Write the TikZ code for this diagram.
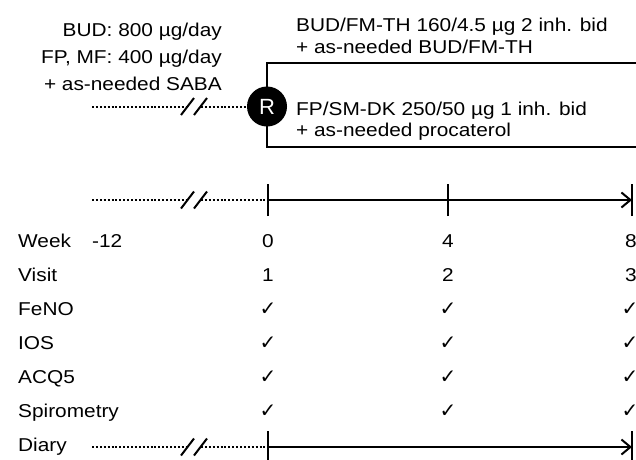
\documentclass[tikz,border=0pt]{standalone}
\usepackage{fontspec}
\setmainfont{Liberation Sans}[FakeStretch=1.12]
\newfontfamily\symfont{DejaVu Sans}
\newfontfamily\rfont{Liberation Sans}
\usetikzlibrary{arrows.meta}
\begin{document}
\begin{tikzpicture}[x=1pt,y=-1pt,
  txt/.style={font=\fontsize{18.6}{22}\selectfont, inner sep=0pt},
  chk/.style={font=\symfont\fontsize{20}{22}\selectfont, inner sep=0pt, anchor=base},
  solidline/.style={line width=2pt},
  dotline/.style={line width=2pt, dash pattern=on 2pt off 1.9pt},
  tickmark/.style={line width=2pt},
  brk/.style={line width=2pt},
  rnode/.style={circle, fill=black, minimum size=40pt, inner sep=0pt,
      font=\rfont\fontsize{22}{24}\selectfont, text=white}]
\useasboundingbox (0,0) rectangle (636,459);

% top-left text
\node[txt, anchor=base east] (l1) at (222,36.7) {BUD: 800 µg/day};
\node[txt, anchor=base east] (l2) at (222,63.3) {FP, MF: 400 µg/day};
\node[txt, anchor=base east] (l3) at (222,90) {+ as-needed SABA};

% randomisation
\coordinate (Rc) at (267,106.5);
\coordinate (s0) at (92,106.5);
\coordinate (s1) at (187,106.5);
\coordinate (s2) at (201,106.5);
\coordinate (s3) at (250,106.5);
\draw[dotline] (s0) -- (s1);
\draw[dotline] (s2) -- (s3);
\draw[brk] (181,115) -- (194,98);
\draw[brk] (194,115) -- (207,98);

% bracket
\coordinate (bt) at (267,63);
\coordinate (bb) at (267,147);
\coordinate (btr) at (636,63);
\coordinate (bbr) at (636,147);
\draw[solidline] (btr) -- (bt) -- (bb) -- (bbr);
\node[rnode] (R) at (Rc) {R};

\node[txt, anchor=base west] (r1) at (296,31.7) {BUD/FM-TH 160/4.5 µg 2 inh. bid};
\node[txt, anchor=base west] (r2) at (296,53.4) {+ as-needed BUD/FM-TH};
\node[txt, anchor=base west] (r3) at (296,115) {FP/SM-DK 250/50 µg 1 inh. bid};
\node[txt, anchor=base west] (r4) at (296,136.7) {+ as-needed procaterol};

% main timeline
\coordinate (t0) at (92,200);
\coordinate (tb1) at (187,200);
\coordinate (tb2) at (201,200);
\coordinate (ta) at (268,200);
\coordinate (tb) at (448,200);
\coordinate (tc) at (632,200);
\draw[dotline] (t0) -- (tb1);
\draw[dotline] (tb2) -- (ta);
\draw[brk] (181,208.5) -- (194,191.5);
\draw[brk] (194,208.5) -- (207,191.5);
\draw[solidline, -{Straight Barb[length=9pt,width=15pt,line width=2pt]}] (ta) -- (tc);
\foreach \p in {ta,tb,tc}{
  \draw[tickmark] ([yshift=-16pt]\p) -- ([yshift=16pt]\p);
}

% rows
\node[txt, anchor=base west] (wk) at (18,247) {Week};
\node[txt, anchor=base west] (w0) at (92,247) {-12};
\node[txt, anchor=base] (w1) at (268,247) {0};
\node[txt, anchor=base] (w2) at (448,247) {4};
\node[txt, anchor=base] (w3) at (631,247) {8};

\node[txt, anchor=base west] (vs) at (18,281) {Visit};
\node[txt, anchor=base] (v1) at (268,281) {1};
\node[txt, anchor=base] (v2) at (448,281) {2};
\node[txt, anchor=base] (v3) at (631,281) {3};

\node[txt, anchor=base west] (fe) at (18,315) {FeNO};
\node[txt, anchor=base west] (io) at (18,349) {IOS};
\node[txt, anchor=base west] (ac) at (18,383) {ACQ5};
\node[txt, anchor=base west] (sp) at (18,417) {Spirometry};
\node[txt, anchor=base west] (di) at (18,451) {Diary};

\foreach \y in {315,349,383,417}{
  \foreach \x in {268,448,630}{
    \node[chk] at (\x,\y) {✓};
  }
}

% diary line
\coordinate (d0) at (92,447);
\coordinate (db1) at (187,447);
\coordinate (db2) at (201,447);
\coordinate (da) at (268,447);
\coordinate (dc) at (632,447);
\draw[dotline] (d0) -- (db1);
\draw[dotline] (db2) -- (da);
\draw[brk] (181,455.5) -- (194,438.5);
\draw[brk] (194,455.5) -- (207,438.5);
\draw[solidline, -{Straight Barb[length=9pt,width=15pt,line width=2pt]}] (da) -- (dc);
\foreach \p in {da,dc}{
  \draw[tickmark] ([yshift=-16pt]\p) -- ([yshift=16pt]\p);
}
\end{tikzpicture}
\end{document}
